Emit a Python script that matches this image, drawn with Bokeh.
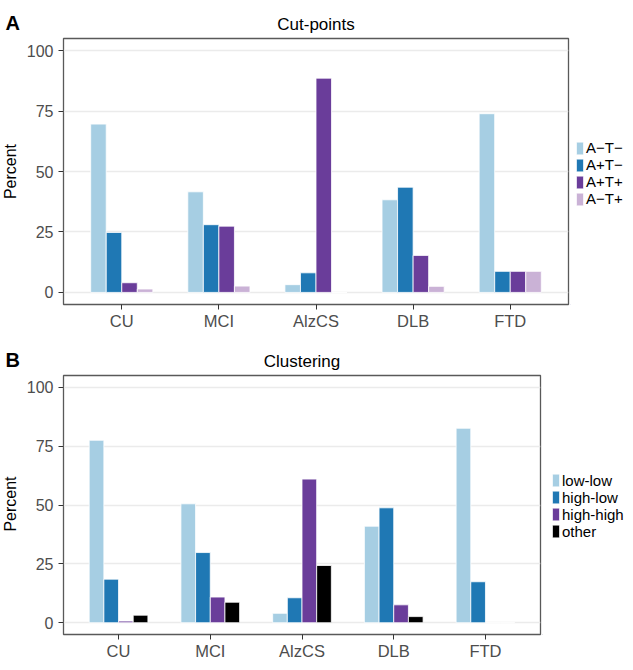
from bokeh.plotting import figure
from bokeh.models import (ColumnDataSource, Range1d, FixedTicker, Legend,
                          LegendItem, Title, Label)
from bokeh.transform import dodge
from bokeh.layouts import column, row
from bokeh.embed import file_html
from bokeh.resources import INLINE

# ---------------- data ----------------
categories = ["CU", "MCI", "AlzCS", "DLB", "FTD"]

cut_labels = ["A\u2212T\u2212", "A+T\u2212", "A+T+", "A\u2212T+"]
cut_aneg_tneg = [69.6, 41.6, 3.2, 38.3, 73.9]
cut_apos_tneg = [24.8, 28.0, 8.1, 43.5, 8.7]
cut_apos_tpos = [4.0, 27.4, 88.6, 15.3, 8.7]
cut_aneg_tpos = [1.4, 2.6, 0.0, 2.5, 8.7]

clu_labels = ["low-low", "high-low", "high-high", "other"]
clu_low_low = [77.5, 50.5, 4.0, 41.0, 82.6]
clu_high_low = [18.5, 29.8, 10.6, 48.8, 17.4]
clu_high_high = [0.7, 10.9, 61.0, 7.6, 0.0]
clu_other = [3.2, 8.7, 24.3, 2.6, 0.0]

y_ticks = [0, 25, 50, 75, 100]

cut_colors = ["#a6cee3", "#1f78b4", "#6a3d9a", "#cab2d6"]
clu_colors = ["#a6cee3", "#1f78b4", "#6a3d9a", "#000000"]

FONT = "Liberation Sans"
W = 625
LEFT_W = 20      # strip holding the panel letter and the y label
AXIS_W = 43      # y tick labels


def blank_fig(width, height):
    f = figure(width=width, height=height, x_range=Range1d(0, 1),
               y_range=Range1d(0, 1), x_axis_type=None, y_axis_type=None,
               output_backend="svg", toolbar_location=None, title=None,
               min_border=0)
    f.outline_line_color = None
    f.background_fill_color = "white"
    f.border_fill_color = "white"
    f.grid.visible = False
    return f


def make_panel(letter, title, labels, series, colors, height, frame_w,
               min_top, min_bottom, title_standoff, letter_standoff,
               legend_gap):
    frame_h = height - min_top - min_bottom
    main_w = AXIS_W + frame_w + 2
    xpos = list(range(1, len(categories) + 1))
    data = {"x": xpos}
    for i, s in enumerate(series):
        data["s%d" % i] = s
    src = ColumnDataSource(data)

    # ---------- left strip: panel letter + y label ----------
    lf = blank_fig(LEFT_W, height)
    lf.add_layout(Title(text=letter, align="left", vertical_align="bottom",
                        offset=5, standoff=letter_standoff, text_font=FONT,
                        text_font_size="20px", text_font_style="bold",
                        text_color="black"), "above")
    lf.add_layout(Label(x=LEFT_W / 2, y=frame_h / 2, x_units="screen",
                        y_units="screen", text="Percent", angle=90,
                        angle_units="deg", text_align="center",
                        text_baseline="middle", text_font=FONT,
                        text_font_size="16px", text_color="black"))

    # ---------- main panel ----------
    p = figure(x_range=Range1d(0.4, len(categories) + 0.6),
               y_range=Range1d(-5, 105), width=main_w, height=height,
               output_backend="svg", toolbar_location=None,
               min_border_left=AXIS_W, min_border_right=2,
               min_border_top=min_top, min_border_bottom=min_bottom)
    p.background_fill_color = "white"
    p.border_fill_color = "white"
    p.outline_line_color = "#595959"
    p.outline_line_width = 1.3

    p.title.text = title
    p.title.align = "center"
    p.title.vertical_align = "bottom"
    p.title.standoff = title_standoff
    p.title.text_font = FONT
    p.title.text_font_size = "17px"
    p.title.text_font_style = "normal"
    p.title.text_color = "black"

    p.xgrid.grid_line_color = None
    p.ygrid.grid_line_color = "#ebebeb"
    p.ygrid.grid_line_width = 1.5

    p.xaxis.ticker = FixedTicker(ticks=xpos)
    p.xaxis.major_label_overrides = {x: c for x, c in zip(xpos, categories)}
    p.yaxis.ticker = FixedTicker(ticks=y_ticks)
    for ax in (p.xaxis, p.yaxis):
        ax.axis_line_color = None
        ax.major_tick_in = 0
        ax.major_tick_out = 5
        ax.major_tick_line_color = "#333333"
        ax.minor_tick_line_color = None
        ax.major_label_text_color = "#4d4d4d"
        ax.major_label_text_font = FONT
    p.xaxis.major_label_text_font_size = "16.5px"
    p.xaxis.major_label_standoff = 2
    p.yaxis.major_label_text_font_size = "16px"
    p.yaxis.major_label_standoff = 5

    n = len(series)
    bw = 0.16
    for i in range(n):
        off = (i - (n - 1) / 2) * bw
        p.vbar(x=dodge("x", off), top="s%d" % i, bottom=0, width=bw,
               source=src, fill_color=colors[i], line_color="white",
               line_width=0.8)

    # ---------- legend strip ----------
    gf = blank_fig(W - LEFT_W - main_w, height)
    items = []
    for i in range(n):
        r = gf.vbar(x=[-10], top=[-10], width=0.5, fill_color=colors[i],
                    line_color="white", line_width=0.8)
        items.append(LegendItem(label=labels[i], renderers=[r]))
    row_h = 18
    leg_h = n * row_h
    legend = Legend(items=items,
                    location=(legend_gap, frame_h / 2 - leg_h / 2),
                    margin=0, padding=0, spacing=0,
                    glyph_width=9, glyph_height=16, label_height=16,
                    label_standoff=2, label_text_font=FONT,
                    label_text_font_size="15px", label_text_color="black",
                    label_text_baseline="middle",
                    border_line_color=None, background_fill_alpha=0)
    gf.add_layout(legend)
    return row(lf, p, gf)


rA = make_panel("A", "Cut-points", cut_labels,
                [cut_aneg_tneg, cut_apos_tneg, cut_apos_tpos, cut_aneg_tpos],
                cut_colors, height=337, frame_w=505, min_top=38,
                min_bottom=33, title_standoff=9, letter_standoff=10,
                legend_gap=5)

rB = make_panel("B", "Clustering", clu_labels,
                [clu_low_low, clu_high_low, clu_high_high, clu_other],
                clu_colors, height=325, frame_w=477, min_top=38,
                min_bottom=26, title_standoff=9, letter_standoff=9,
                legend_gap=9)

layout = column(rA, rB)
open("out.html", "w").write(file_html(layout, INLINE))
